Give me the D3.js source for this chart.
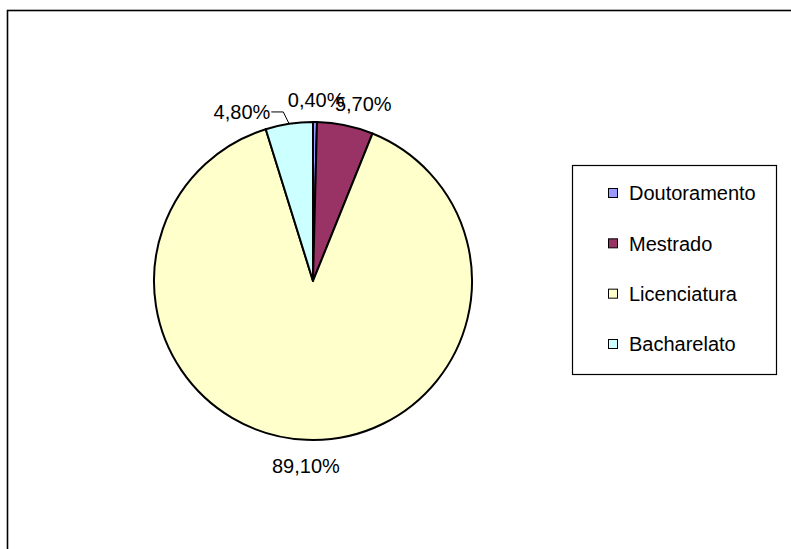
<!DOCTYPE html>
<html>
<head>
<meta charset="utf-8">
<script src="https://cdn.jsdelivr.net/npm/d3@7/dist/d3.min.js"></script>
<style>
  html, body { margin: 0; padding: 0; background: #fff; }
  svg { display: block; }
  text { font-family: "Liberation Sans", Arial, sans-serif; fill: #000; }
</style>
</head>
<body>
<svg id="chart" width="791" height="549"></svg>
<script>
// Qualification levels and their share (%)
const categories = ["Doutoramento", "Mestrado", "Licenciatura", "Bacharelato"];
const values = [0.4, 5.7, 89.1, 4.8];
const valueLabels = ["0,40%", "5,70%", "89,10%", "4,80%"];
const colors = ["#9999FF", "#993366", "#FFFFCC", "#CCFFFF"];

const svg = d3.select("#chart");
const W = 791, H = 549;
const cx = 313, cy = 281, R = 159;
const fontSize = 20;

// chart area frame (continues past the right and bottom edges)
svg.append("rect")
  .attr("x", 7.5).attr("y", 10.5)
  .attr("width", W + 20).attr("height", H + 20)
  .attr("fill", "#fff").attr("stroke", "#000").attr("stroke-width", 1.6);

const data = categories.map((c, i) => ({ cat: c, value: values[i], label: valueLabels[i], color: colors[i] }));

const pie = d3.pie().sort(null).value(d => d.value).startAngle(0).endAngle(2 * Math.PI);
const arcs = pie(data);
const arc = d3.arc().innerRadius(0).outerRadius(R);

const g = svg.append("g").attr("transform", `translate(${cx},${cy})`);

g.selectAll("path.slice")
  .data(arcs)
  .join("path")
  .attr("class", "slice")
  .attr("d", arc)
  .attr("fill", d => d.data.color)
  .attr("stroke", "#000")
  .attr("stroke-width", 2)
  .attr("stroke-linejoin", "round");

// value labels outside the pie
const gap = 15;
const capH = fontSize * 0.72;
const leaderSlices = new Set(["Bacharelato"]);

const measure = svg.append("text").attr("font-size", fontSize).attr("visibility", "hidden");
function textWidth(s) { measure.text(s); return measure.node().getComputedTextLength(); }

arcs.forEach(d => {
  const a = (d.startAngle + d.endAngle) / 2;
  const s = Math.sin(a), c = Math.cos(a);
  const w = textWidth(d.data.label);
  if (leaderSlices.has(d.data.cat)) {
    const p0 = [R * s, -R * c];
    const p1 = [(R + 12) * s - 4, -(R + 12) * c];
    const p2 = [p1[0] - 12, p1[1]];
    g.append("polyline")
      .attr("points", [p0, p1, p2].map(p => p.join(",")).join(" "))
      .attr("fill", "none").attr("stroke", "#000").attr("stroke-width", 1);
    g.append("text")
      .attr("font-size", fontSize)
      .attr("text-anchor", "end")
      .attr("x", p2[0] - 1)
      .attr("y", p2[1] + capH / 2)
      .text(d.data.label);
  } else {
    const px = (R + gap) * s + s * w * 1.33 * Math.max(c, 0);
    const py = -(R + gap) * c;
    g.append("text")
      .attr("font-size", fontSize)
      .attr("text-anchor", "middle")
      .attr("x", px)
      .attr("y", py + (capH + 4) * (1 - c) / 2)
      .text(d.data.label);
  }
});
measure.remove();

// legend
const lg = svg.append("g");
lg.append("rect")
  .attr("x", 572.5).attr("y", 165.5).attr("width", 204).attr("height", 209)
  .attr("fill", "#fff").attr("stroke", "#000").attr("stroke-width", 1.2);

const rowY = d3.scalePoint().domain(categories).range([193, 344]);
const items = lg.selectAll("g.item").data(data).join("g").attr("class", "item")
  .attr("transform", d => `translate(608,${rowY(d.cat)})`);
items.append("rect")
  .attr("x", 0.5).attr("y", -4.5).attr("width", 9).attr("height", 9)
  .attr("fill", d => d.color).attr("stroke", "#000").attr("stroke-width", 1);
items.append("text")
  .attr("x", 21).attr("y", capH / 2)
  .attr("font-size", fontSize)
  .text(d => d.cat);
</script>
</body>
</html>
